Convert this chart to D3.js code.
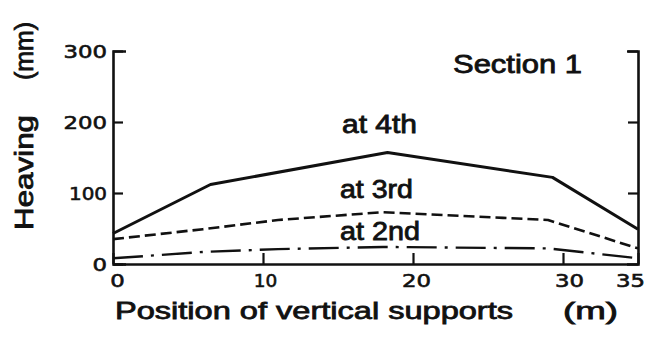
<!DOCTYPE html>
<html>
<head>
<meta charset="utf-8">
<script src="https://cdn.jsdelivr.net/npm/d3@7"></script>
<style>
  html, body { margin: 0; padding: 0; background: #fff; }
  svg { display: block; }
  text { font-family: "Liberation Sans", Arial, sans-serif; fill: #111; }
</style>
</head>
<body>
<svg id="chart" width="652" height="338"></svg>
<script>
// Heaving along the section, measured as each support stage was installed
const xTicks = [0, 10, 20, 30, 35];
const yTicks = [0, 100, 200, 300];

const pos4th = [0, 6.5, 18.3, 29.3, 35];
const heave4th = [43, 112, 157, 122, 49];

const pos3rd = [0, 6, 11, 18, 26, 29, 35];
const heave3rd = [35, 49, 62, 73, 65, 62, 22];

const pos2nd = [0, 6, 11, 18, 29, 35];
const heave2nd = [8, 17, 21, 24, 22, 8];

const seriesLabels = ["at 4th", "at 3rd", "at 2nd"];
const sectionTitle = "Section 1";
const xTitle = "Position of vertical supports";
const xUnit = "(m)";
const yTitle = "Heaving";
const yUnit = "(mm)";

const svg = d3.select("#chart");
const ink = "#111";

const x = d3.scaleLinear().domain([0, 35]).range([113, 638]);
const y = d3.scaleLinear().domain([0, 300]).range([264, 51]);

// Digits are drawn wide, like the lettering on the original plate
const digitWidth = ch => (ch === "1" ? 9 : 14.5);
const numLen = s => String(s).split("").reduce((a, c) => a + digitWidth(c), 0);

function styleAxis(g) {
  g.selectAll("path.domain").attr("stroke", ink).attr("stroke-width", 2.6);
  g.selectAll(".tick line").attr("stroke", ink).attr("stroke-width", 2.2);
  g.selectAll(".tick text")
    .attr("fill", ink)
    .attr("stroke", ink)
    .attr("stroke-width", 0.6)
    .style("font-family", "'DejaVu Sans', sans-serif")
    .style("font-size", "18px")
    .attr("lengthAdjust", "spacingAndGlyphs")
    .attr("textLength", d => numLen(d));
}

// left axis, ticks pointing inward
svg.append("g")
  .attr("transform", `translate(${x(0)},0)`)
  .call(d3.axisLeft(y).tickValues(yTicks).tickSize(-10).tickSizeOuter(-13).tickPadding(6))
  .call(styleAxis)
  .call(g => g.selectAll(".tick text").attr("dy", "0.36em"));

// right axis, ticks only
svg.append("g")
  .attr("transform", `translate(${x(35)},0)`)
  .call(d3.axisRight(y).tickValues(yTicks.slice(1)).tickSize(-10).tickSizeOuter(-11).tickFormat(""))
  .call(styleAxis);

// bottom axis
const xNudge = { 0: 4, 10: 2, 20: 3, 30: 6, 35: -8 };
svg.append("g")
  .attr("transform", `translate(0,${y(0)})`)
  .call(d3.axisBottom(x).tickValues(xTicks).tickSize(-11).tickSizeOuter(0).tickPadding(10))
  .call(styleAxis)
  .call(g => g.selectAll(".tick text").attr("dx", d => xNudge[d] || 0));

// series lines
const line = d3.line().x(d => x(d[0])).y(d => y(d[1]));
const series = [
  { pos: pos4th, val: heave4th, width: 3, dash: null },
  { pos: pos3rd, val: heave3rd, width: 2.6, dash: "11 5" },
  { pos: pos2nd, val: heave2nd, width: 2.4, dash: "30 8 3 8" }
];
series.forEach(s => {
  svg.append("path")
    .datum(d3.zip(s.pos, s.val))
    .attr("d", line)
    .attr("fill", "none")
    .attr("stroke", ink)
    .attr("stroke-width", s.width)
    .attr("stroke-linejoin", "round")
    .attr("stroke-dasharray", s.dash);
});

function label(txt, px, py, size, len, opts = {}) {
  const t = svg.append("text")
    .attr("x", px).attr("y", py)
    .style("font-size", size + "px")
    .attr("stroke", ink).attr("stroke-width", 0.8)
    .attr("textLength", len)
    .attr("lengthAdjust", "spacingAndGlyphs")
    .text(txt);
  if (opts.rotate) t.attr("transform", `rotate(-90,${px},${py})`);
  return t;
}

// curve labels
label(seriesLabels[0], 342, 133, 25, 75);
label(seriesLabels[1], 340, 198, 25, 73);
label(seriesLabels[2], 340, 240, 25, 80);

// section title
label(sectionTitle, 453, 73, 25, 129);

// axis titles
label(xTitle, 115, 319, 24, 398);
label(xUnit, 563, 319, 24, 55);
label(yTitle, 33, 230, 25, 115, { rotate: true });
label(yUnit, 33, 80, 25, 58, { rotate: true });
</script>
</body>
</html>
